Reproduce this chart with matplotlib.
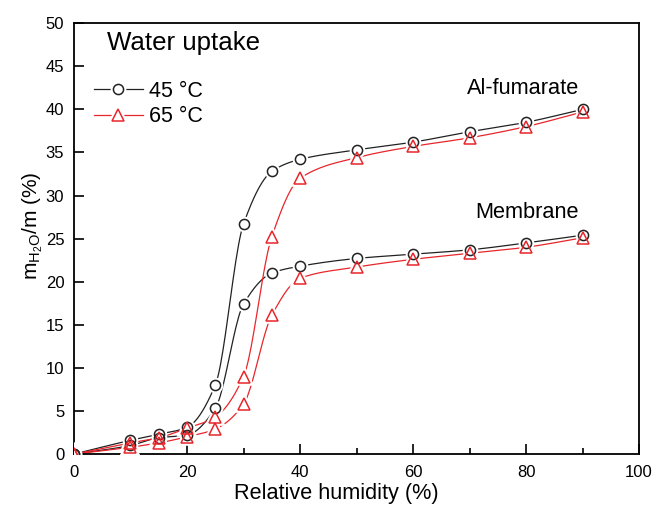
import numpy as np
import matplotlib
matplotlib.use("Agg")
import matplotlib.pyplot as plt
from matplotlib.lines import Line2D
from matplotlib.legend_handler import HandlerTuple

plt.rcParams['font.family'] = ['Liberation Sans', 'DejaVu Sans']
plt.rcParams['mathtext.fontset'] = 'custom'
plt.rcParams['mathtext.rm'] = 'Liberation Sans'
plt.rcParams['mathtext.it'] = 'Liberation Sans'

rh = [0, 10, 15, 20, 25, 30, 35, 40, 50, 60, 70, 80, 90]
al_45 = [0, 1.6, 2.3, 3.1, 8.0, 26.7, 32.8, 34.2, 35.3, 36.2, 37.4, 38.5, 40.0]
mem_45 = [0, 1.0, 1.9, 2.2, 5.3, 17.4, 21.0, 21.8, 22.7, 23.2, 23.7, 24.5, 25.4]
al_65 = [0, 1.3, 1.9, 3.0, 4.3, 9.0, 25.2, 32.0, 34.4, 35.7, 36.7, 38.0, 39.7]
mem_65 = [0, 0.8, 1.3, 2.0, 2.9, 5.8, 16.1, 20.4, 21.7, 22.6, 23.3, 24.0, 25.1]

BLACK = '#222222'
RED = '#e8262b'


def smooth(x, y, n=400):
    x = np.asarray(x, float)
    y = np.asarray(y, float)
    h = np.diff(x)
    d = np.diff(y) / h
    m = np.zeros_like(y)
    m[0] = d[0]
    m[-1] = d[-1]
    for k in range(1, len(x) - 1):
        if d[k - 1] * d[k] <= 0:
            m[k] = 0
        else:
            w1 = 2 * h[k] + h[k - 1]
            w2 = h[k] + 2 * h[k - 1]
            m[k] = (w1 + w2) / (w1 / d[k - 1] + w2 / d[k])
    xs = np.linspace(x[0], x[-1], n)
    idx = np.clip(np.searchsorted(x, xs) - 1, 0, len(x) - 2)
    t = (xs - x[idx]) / h[idx]
    h00 = 2 * t**3 - 3 * t**2 + 1
    h10 = t**3 - 2 * t**2 + t
    h01 = -2 * t**3 + 3 * t**2
    h11 = t**3 - t**2
    ys = h00 * y[idx] + h10 * h[idx] * m[idx] + h01 * y[idx + 1] + h11 * h[idx] * m[idx + 1]
    return xs, ys


fig = plt.figure(figsize=(6.56, 5.16), dpi=100)
ax = fig.add_axes([0.1128, 0.120, 0.8613, 0.835])

series = [(al_45, BLACK, 'o', 7.3), (mem_45, BLACK, 'o', 7.3),
          (al_65, RED, '^', 8), (mem_65, RED, '^', 8)]

for ys, c, mk, ms in series:
    sx, sy = smooth(rh, ys)
    ax.plot(sx, sy, color=c, lw=0.9, zorder=2)
for ys, c, mk, ms in series:
    ax.plot(rh, ys, ls='none', marker=mk, ms=ms, mfc='white', mec='white', mew=4, zorder=3)
for ys, c, mk, ms in series:
    ax.plot(rh, ys, ls='none', marker=mk, ms=ms, mfc='none', mec=c, mew=1.1, zorder=4)

ax.set_xlim(0, 100)
ax.set_ylim(0, 50)
ax.set_xticks(np.arange(0, 101, 20))
ax.set_xticks(np.arange(0, 101, 10), minor=True)
ax.set_yticks(np.arange(0, 51, 5))
ax.tick_params(which='both', direction='in', labelsize=12, width=1.2)
ax.tick_params(which='major', length=7)
ax.tick_params(which='minor', length=4)
ax.tick_params(axis='x', pad=8)
ax.tick_params(axis='y', pad=7)
for s in ax.spines.values():
    s.set_linewidth(1.3)

ax.set_xlabel('Relative humidity (%)', fontsize=15.6)
ax.xaxis.set_label_coords(0.464, -0.066)
ax.set_ylabel(r'$\mathregular{m_{H_2O}/m\ (\%)}$', fontsize=15)
ax.yaxis.set_label_coords(-0.051, 0.53)

ax.text(0.058, 0.953, 'Water uptake', transform=ax.transAxes, fontsize=18.6,
        ha='left', va='center')
ax.text(79.5, 42.4, 'Al-fumarate', fontsize=15.7, ha='center', va='center')
ax.text(80.2, 28.0, 'Membrane', fontsize=15.7, ha='center', va='center')


def handle(c, mk, ms):
    ln = Line2D([], [], color=c, lw=0.9)
    halo = Line2D([], [], ls='none', marker=mk, ms=ms, mfc='white', mec='white', mew=4)
    m = Line2D([], [], ls='none', marker=mk, ms=ms, mfc='none', mec=c, mew=1.1)
    return (ln, halo, m)


leg = ax.legend([handle(BLACK, 'o', 7.3), handle(RED, '^', 8)], ['45 °C', '65 °C'],
                handler_map={tuple: HandlerTuple(ndivide=1, pad=0)},
                loc='upper left', bbox_to_anchor=(0.02, 0.887), frameon=False,
                fontsize=15.5, handlelength=2.28, handletextpad=0.28, labelspacing=0.22,
                borderaxespad=0)

fig.savefig('out.png', dpi=100)
